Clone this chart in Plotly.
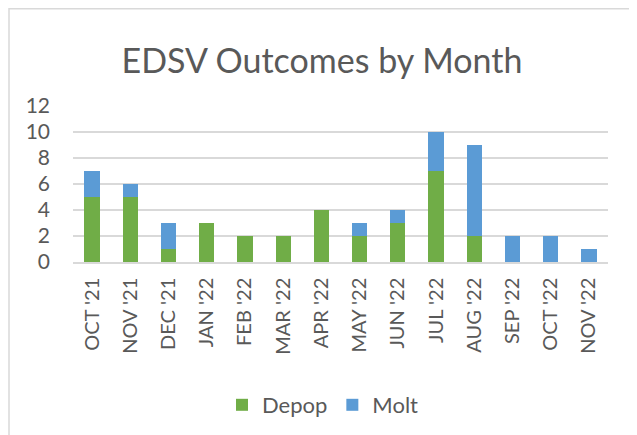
import plotly.graph_objects as go

months = ["OCT '21", "NOV '21", "DEC '21", "JAN '22", "FEB '22", "MAR '22", "APR '22",
          "MAY '22", "JUN '22", "JUL '22", "AUG '22", "SEP '22", "OCT '22", "NOV '22"]
depop = [5, 5, 1, 3, 2, 2, 4, 2, 3, 7, 2, 0, 0, 0]
molt = [2, 1, 2, 0, 0, 0, 0, 1, 1, 3, 7, 2, 2, 1]
y_ticks = [0, 2, 4, 6, 8, 10, 12]

# page has an 8px body margin, so work in reference coords minus 8
OFF = 8
W, H = 637 - OFF, 435 - OFF
L, T = 73 - OFF, 106 - OFF
pw, ph = 535, 156
R, B = W - L - pw, H - T - ph

def px(x):
    return (x - OFF - L) / pw

def py(y):
    return (T + ph - (y - OFF)) / ph

font = "Lato, 'Open Sans', sans-serif"
txt = "#595959"

fig = go.Figure()
fig.add_trace(go.Bar(name="Depop", x=months, y=depop, marker_color="#70AD47", marker_line_width=0))
fig.add_trace(go.Bar(name="Molt", x=months, y=molt, marker_color="#5B9BD5", marker_line_width=0))

fig.update_layout(
    width=W, height=H,
    barmode="stack", bargap=0.6,
    margin=dict(l=L, r=R, t=T, b=B, autoexpand=False),
    paper_bgcolor="white", plot_bgcolor="white",
    font=dict(family=font, color=txt, size=19),
    title=dict(text="EDSV Outcomes by Month", x=(322 - OFF) / W, xanchor="center",
               y=1 - (61 - OFF) / H, yanchor="middle", font=dict(size=34, color=txt, family=font)),
    legend=dict(orientation="h", traceorder="normal", xref="container", yref="container",
                x=(323 - OFF) / W, xanchor="center", y=1 - (405 - OFF) / H, yanchor="middle",
                font=dict(size=22, color=txt), itemwidth=30, tracegroupgap=0),
    xaxis=dict(tickangle=-90, showgrid=False, showline=True, linecolor="#D9D9D9", linewidth=1.5,
               tickfont=dict(size=20, color=txt), ticks="", ticklabelstandoff=6, automargin=False),
    yaxis=dict(range=[0, 12], tickvals=y_ticks, showgrid=True, gridcolor="#D9D9D9", gridwidth=1.5,
               zeroline=False, showline=False, tickfont=dict(size=21, color=txt), ticks="",
               ticklabelstandoff=22, automargin=False),
    shapes=[dict(type="rect", xref="paper", yref="paper",
                 x0=px(9), x1=px(640), y0=py(440), y1=py(8.75),
                 line=dict(color="#D9D9D9", width=1.5), fillcolor="rgba(0,0,0,0)", layer="below")],
)

fig.write_html("out.html")
